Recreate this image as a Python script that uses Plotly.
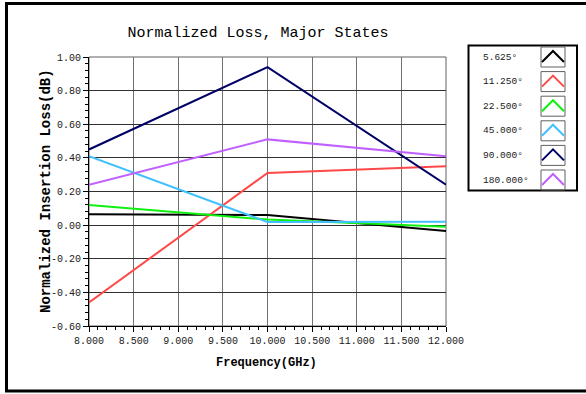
import plotly.graph_objects as go

freq = [8.0, 10.0, 12.0]
names = ["5.625°", "11.250°", "22.500°", "45.000°", "90.000°", "180.000°"]
colors = ["#000000", "#ff4848", "#10f010", "#40c0ff", "#000066", "#c060ff"]
s5625 = [0.065, 0.060, -0.035]
s11250 = [-0.46, 0.31, 0.35]
s22500 = [0.12, 0.033, -0.01]
s45000 = [0.41, 0.018, 0.02]
s90000 = [0.45, 0.94, 0.24]
s180000 = [0.24, 0.51, 0.41]
series = [s5625, s11250, s22500, s45000, s90000, s180000]

x_ticks = [8.0, 8.5, 9.0, 9.5, 10.0, 10.5, 11.0, 11.5, 12.0]
x_labels = ["8.000", "8.500", "9.000", "9.500", "10.000", "10.500", "11.000", "11.500", "12.000"]
y_ticks = [-0.6, -0.4, -0.2, 0.0, 0.2, 0.4, 0.6, 0.8, 1.0]
y_labels = ["-0.60", "-0.40", "-0.20", "0.00", "0.20", "0.40", "0.60", "0.80", "1.00"]

W, H = 586, 394
L, R, T, B = 89, 446, 57, 326

def px(x):
    return (x - L) / (R - L)

def py(y):
    return (B - y) / (B - T)

fig = go.Figure()
for name, col, ys in zip(names, colors, series):
    fig.add_trace(go.Scatter(x=freq, y=ys, mode="lines", name=name,
                             line=dict(color=col, width=2), showlegend=False))

mono = "Liberation Mono"
fig.update_layout(
    width=W, height=H, autosize=False,
    margin=dict(l=L, r=W - R, t=T, b=H - B),
    paper_bgcolor="white", plot_bgcolor="white",
    font=dict(family=mono, color="#000000"),
    title=dict(text="Normalized Loss, Major States", x=px(258), xref="paper",
               xanchor="center", y=1 - 32 / H, yanchor="middle",
               font=dict(family=mono, size=15, color="#000000")),
)
fig.update_xaxes(range=[8, 12], tickvals=x_ticks, ticktext=x_labels,
                 showgrid=True, gridcolor="#707070", gridwidth=1,
                 showline=True, linecolor="#000000", linewidth=1,
                 ticks="outside", ticklen=5, tickcolor="#000000",
                 tickfont=dict(family=mono, size=10, color="#202020"),
                 minor=dict(dtick=0.1, ticks="outside", ticklen=3, tickcolor="#000000", showgrid=False),
                 zeroline=False)
fig.update_yaxes(range=[-0.6, 1.0], tickvals=y_ticks, ticktext=y_labels,
                 showgrid=True, gridcolor="#303030", gridwidth=1,
                 showline=True, linecolor="#000000", linewidth=1,
                 ticks="outside", ticklen=5, tickcolor="#000000",
                 tickfont=dict(family=mono, size=10, color="#202020"),
                 minor=dict(dtick=0.04, ticks="outside", ticklen=3, tickcolor="#000000", showgrid=False),
                 zeroline=False)

shapes = []
shapes.append(dict(type="rect", xref="paper", yref="paper", x0=0, x1=1, y0=0, y1=1,
                   line=dict(color="#606060", width=1), layer="below"))
shapes.append(dict(type="rect", xref="paper", yref="paper",
                   x0=px(6.5), x1=px(592), y0=py(391), y1=py(3.5),
                   line=dict(color="#000000", width=3)))
shapes.append(dict(type="rect", xref="paper", yref="paper",
                   x0=px(468.5), x1=px(577), y0=py(190.5), y1=py(45.5),
                   line=dict(color="#000000", width=2), fillcolor="white"))
annotations = [
    dict(text="<b>Frequency(GHz)</b>", xref="paper", yref="paper", x=px(266), y=py(363),
         xanchor="center", yanchor="middle", showarrow=False,
         font=dict(family=mono, size=12, color="#000000")),
    dict(text="<b>Normalized Insertion Loss(dB)</b>", xref="paper", yref="paper", x=px(46), y=py(191),
         xanchor="center", yanchor="middle", showarrow=False, textangle=-90,
         font=dict(family=mono, size=14, color="#000000")),
]
for i, (name, col) in enumerate(zip(names, colors)):
    cy = 57 + i * 24.6
    annotations.append(dict(text=name, xref="paper", yref="paper", x=px(481), y=py(cy),
                            xanchor="left", yanchor="middle", showarrow=False,
                            font=dict(family=mono, size=9.5, color="#202020")))
    bx0, bx1 = 541, 565
    by0, by1 = cy - 10, cy + 10
    shapes.append(dict(type="rect", xref="paper", yref="paper",
                       x0=px(bx0), x1=px(bx1), y0=py(by1), y1=py(by0),
                       line=dict(color="#606060", width=1)))
    path = "M {:.4f},{:.4f} L {:.4f},{:.4f} L {:.4f},{:.4f}".format(
        px(bx0 + 1), py(cy + 5), px((bx0 + bx1) / 2), py(cy - 6), px(bx1 - 1), py(cy + 5))
    shapes.append(dict(type="path", xref="paper", yref="paper", path=path,
                       line=dict(color=col, width=2)))

fig.update_layout(shapes=shapes, annotations=annotations)
fig.write_html("out.html", config={"displayModeBar": False},
               post_script="document.body.style.margin='0';document.body.style.overflow='hidden';")
